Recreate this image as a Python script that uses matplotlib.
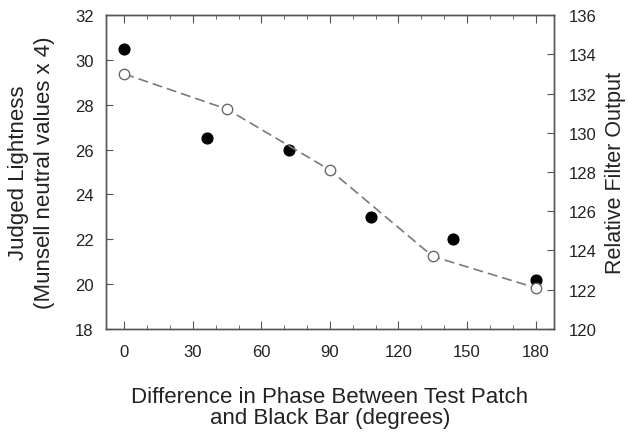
import matplotlib
matplotlib.use("Agg")
import matplotlib.pyplot as plt
from matplotlib.ticker import MultipleLocator

plt.rcParams['font.family'] = ['Liberation Sans', 'DejaVu Sans']

# judged lightness (filled circles, left axis)
phase_judged = [0, 36, 72, 108, 144, 180]
lightness = [30.5, 26.5, 26.0, 23.0, 22.0, 20.2]

# relative filter output (open circles, right axis)
phase_filter = [0, 45, 90, 135, 180]
filter_output = [133.0, 131.2, 128.1, 123.7, 122.1]

x_ticks = [0, 30, 60, 90, 120, 150, 180]

fig = plt.figure(figsize=(6.29, 4.35), dpi=100)
ax = fig.add_axes([0.1685, 0.2414, 0.712, 0.7218])
ax2 = ax.twinx()

ax.scatter(phase_judged, lightness, s=60, color='black', zorder=3, clip_on=False)
ax2.plot(phase_filter, filter_output, color='#7a7a7a', lw=1.2, dashes=(6, 3),
         marker='o', markersize=7.5, markerfacecolor='white', markeredgecolor='#6a6a6a',
         markeredgewidth=1.0, zorder=2)

ax.set_xlim(-8, 188)
ax.set_ylim(18, 32)
ax2.set_ylim(120, 136)
ax.set_xticks(x_ticks)
ax.xaxis.set_minor_locator(MultipleLocator(10))
ax.set_yticks(range(18, 33, 2))
ax2.set_yticks(range(120, 137, 2))

for a in (ax, ax2):
    for s in a.spines.values():
        s.set_color('#555555')
        s.set_linewidth(1.0)

ax.tick_params(axis='x', which='both', direction='in', top=True, labelsize=12,
               colors='#555555', labelcolor='#222222', pad=11)
ax.tick_params(axis='x', which='major', length=6)
ax.tick_params(axis='x', which='minor', length=3)
ax.tick_params(axis='y', direction='in', length=5, labelsize=12,
               colors='#555555', labelcolor='#222222', pad=9)
ax2.tick_params(axis='y', direction='in', length=5, labelsize=12,
                colors='#555555', labelcolor='#222222', pad=11)

ax.set_xlabel("Difference in Phase Between Test Patch\nand Black Bar (degrees)",
              fontsize=16, color='#222222', labelpad=19, linespacing=1.05)
ax.set_ylabel("Judged Lightness\n(Munsell neutral values x 4)",
              fontsize=16, color='#222222', labelpad=14, linespacing=1.3)
ax2.set_ylabel("Relative Filter Output", fontsize=15.5, color='#222222', labelpad=6)

fig.savefig("out.png", dpi=100)
